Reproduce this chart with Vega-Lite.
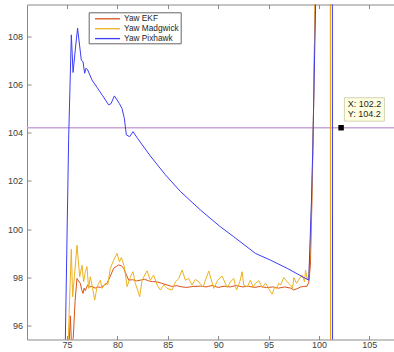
{
  "$schema": "https://vega.github.io/schema/vega-lite/v6.json",
  "width": 367,
  "height": 335,
  "autosize": {"type": "none"},
  "padding": {"left": 27, "top": 4.5, "right": 0, "bottom": 12.5},
  "background": "white",
  "config": {
    "view": {"stroke": null},
    "font": "Liberation Sans",
    "axis": {
      "domainColor": "#8a8a8a",
      "tickColor": "#8a8a8a",
      "labelColor": "#404040",
      "labelFont": "Liberation Sans",
      "labelFontSize": 9,
      "tickSize": -4,
      "grid": false,
      "title": null
    },
    "legend": {
      "orient": "none",
      "legendX": 61.7,
      "legendY": 7.8,
      "strokeColor": "#666666",
      "fillColor": "white",
      "padding": 1,
      "symbolType": "M-1,0H4.56",
      "symbolSize": 81,
      "symbolStrokeWidth": 1.3,
      "symbolOffset": 4.3,
      "labelOffset": 19,
      "labelFontSize": 8.3,
      "labelColor": "#262626",
      "labelFont": "Liberation Sans",
      "rowPadding": 0.9,
      "title": null
    }
  },
  "datasets": {
    "series": [
      {"s": "Yaw EKF", "x": 75.17, "v": 94.8},
      {"s": "Yaw EKF", "x": 75.33, "v": 96.4},
      {"s": "Yaw EKF", "x": 75.45, "v": 95.2},
      {"s": "Yaw EKF", "x": 75.62, "v": 95.5},
      {"s": "Yaw EKF", "x": 75.8, "v": 97.0},
      {"s": "Yaw EKF", "x": 75.99, "v": 97.95},
      {"s": "Yaw EKF", "x": 76.15, "v": 97.85},
      {"s": "Yaw EKF", "x": 76.32, "v": 97.75},
      {"s": "Yaw EKF", "x": 76.45, "v": 97.5},
      {"s": "Yaw EKF", "x": 76.59, "v": 97.33},
      {"s": "Yaw EKF", "x": 76.7, "v": 97.55},
      {"s": "Yaw EKF", "x": 76.82, "v": 97.45},
      {"s": "Yaw EKF", "x": 77.05, "v": 97.68},
      {"s": "Yaw EKF", "x": 77.25, "v": 97.6},
      {"s": "Yaw EKF", "x": 77.48, "v": 97.62},
      {"s": "Yaw EKF", "x": 77.8, "v": 97.55},
      {"s": "Yaw EKF", "x": 78.05, "v": 97.6},
      {"s": "Yaw EKF", "x": 78.31, "v": 97.58},
      {"s": "Yaw EKF", "x": 78.6, "v": 97.65},
      {"s": "Yaw EKF", "x": 78.97, "v": 97.75},
      {"s": "Yaw EKF", "x": 79.3, "v": 98.05},
      {"s": "Yaw EKF", "x": 79.63, "v": 98.37},
      {"s": "Yaw EKF", "x": 79.9, "v": 98.45},
      {"s": "Yaw EKF", "x": 80.12, "v": 98.51},
      {"s": "Yaw EKF", "x": 80.4, "v": 98.48},
      {"s": "Yaw EKF", "x": 80.62, "v": 98.37},
      {"s": "Yaw EKF", "x": 80.9, "v": 98.1},
      {"s": "Yaw EKF", "x": 81.12, "v": 97.88},
      {"s": "Yaw EKF", "x": 81.5, "v": 97.9},
      {"s": "Yaw EKF", "x": 81.9, "v": 97.85},
      {"s": "Yaw EKF", "x": 82.28, "v": 97.88},
      {"s": "Yaw EKF", "x": 82.7, "v": 97.92},
      {"s": "Yaw EKF", "x": 83.1, "v": 97.85},
      {"s": "Yaw EKF", "x": 83.5, "v": 97.82},
      {"s": "Yaw EKF", "x": 83.94, "v": 97.81},
      {"s": "Yaw EKF", "x": 84.4, "v": 97.75},
      {"s": "Yaw EKF", "x": 84.93, "v": 97.68},
      {"s": "Yaw EKF", "x": 85.4, "v": 97.62},
      {"s": "Yaw EKF", "x": 85.9, "v": 97.65},
      {"s": "Yaw EKF", "x": 86.4, "v": 97.6},
      {"s": "Yaw EKF", "x": 86.9, "v": 97.58},
      {"s": "Yaw EKF", "x": 87.5, "v": 97.62},
      {"s": "Yaw EKF", "x": 88.24, "v": 97.63},
      {"s": "Yaw EKF", "x": 88.8, "v": 97.6},
      {"s": "Yaw EKF", "x": 89.4, "v": 97.66},
      {"s": "Yaw EKF", "x": 90.0, "v": 97.58},
      {"s": "Yaw EKF", "x": 90.6, "v": 97.63},
      {"s": "Yaw EKF", "x": 91.2, "v": 97.6},
      {"s": "Yaw EKF", "x": 91.8, "v": 97.66},
      {"s": "Yaw EKF", "x": 92.4, "v": 97.6},
      {"s": "Yaw EKF", "x": 93.0, "v": 97.63},
      {"s": "Yaw EKF", "x": 93.6, "v": 97.58},
      {"s": "Yaw EKF", "x": 94.2, "v": 97.62},
      {"s": "Yaw EKF", "x": 94.8, "v": 97.57},
      {"s": "Yaw EKF", "x": 95.4, "v": 97.6},
      {"s": "Yaw EKF", "x": 96.0, "v": 97.55},
      {"s": "Yaw EKF", "x": 96.6, "v": 97.6},
      {"s": "Yaw EKF", "x": 97.2, "v": 97.55},
      {"s": "Yaw EKF", "x": 97.5, "v": 97.47},
      {"s": "Yaw EKF", "x": 97.8, "v": 97.52},
      {"s": "Yaw EKF", "x": 98.2, "v": 97.6},
      {"s": "Yaw EKF", "x": 98.5, "v": 97.62},
      {"s": "Yaw EKF", "x": 98.83, "v": 97.63},
      {"s": "Yaw EKF", "x": 99.0, "v": 97.8},
      {"s": "Yaw EKF", "x": 99.15, "v": 98.5},
      {"s": "Yaw EKF", "x": 99.3, "v": 101.0},
      {"s": "Yaw EKF", "x": 99.45, "v": 104.5},
      {"s": "Yaw EKF", "x": 99.62, "v": 109.5},
      {"s": "Yaw EKF", "x": 99.8, "v": 115},
      {"s": "Yaw EKF", "x": 101.13, "v": 116},
      {"s": "Yaw EKF", "x": 101.16, "v": 88},
      {"s": "Yaw EKF", "x": 107.5, "v": 88},
      {"s": "Yaw Madgwick", "x": 75.1, "v": 95.0},
      {"s": "Yaw Madgwick", "x": 75.25, "v": 97.0},
      {"s": "Yaw Madgwick", "x": 75.43, "v": 99.16},
      {"s": "Yaw Madgwick", "x": 75.56, "v": 97.19},
      {"s": "Yaw Madgwick", "x": 75.73, "v": 98.02},
      {"s": "Yaw Madgwick", "x": 75.99, "v": 99.33},
      {"s": "Yaw Madgwick", "x": 76.26, "v": 98.02},
      {"s": "Yaw Madgwick", "x": 76.49, "v": 98.5},
      {"s": "Yaw Madgwick", "x": 76.65, "v": 97.81},
      {"s": "Yaw Madgwick", "x": 76.82, "v": 98.23},
      {"s": "Yaw Madgwick", "x": 76.98, "v": 98.44},
      {"s": "Yaw Madgwick", "x": 77.15, "v": 97.54},
      {"s": "Yaw Madgwick", "x": 77.31, "v": 98.02},
      {"s": "Yaw Madgwick", "x": 77.48, "v": 97.68},
      {"s": "Yaw Madgwick", "x": 77.75, "v": 97.05},
      {"s": "Yaw Madgwick", "x": 77.98, "v": 97.6},
      {"s": "Yaw Madgwick", "x": 78.15, "v": 97.75},
      {"s": "Yaw Madgwick", "x": 78.31, "v": 97.88},
      {"s": "Yaw Madgwick", "x": 78.47, "v": 97.54},
      {"s": "Yaw Madgwick", "x": 78.8, "v": 97.74},
      {"s": "Yaw Madgwick", "x": 79.05, "v": 97.7},
      {"s": "Yaw Madgwick", "x": 79.3, "v": 98.37},
      {"s": "Yaw Madgwick", "x": 79.63, "v": 98.71},
      {"s": "Yaw Madgwick", "x": 79.96, "v": 98.99},
      {"s": "Yaw Madgwick", "x": 80.2, "v": 98.64},
      {"s": "Yaw Madgwick", "x": 80.4, "v": 98.82},
      {"s": "Yaw Madgwick", "x": 80.69, "v": 98.44},
      {"s": "Yaw Madgwick", "x": 80.96, "v": 97.61},
      {"s": "Yaw Madgwick", "x": 81.29, "v": 98.02},
      {"s": "Yaw Madgwick", "x": 81.55, "v": 98.23},
      {"s": "Yaw Madgwick", "x": 81.78, "v": 97.74},
      {"s": "Yaw Madgwick", "x": 82.01, "v": 97.47},
      {"s": "Yaw Madgwick", "x": 82.21, "v": 97.19},
      {"s": "Yaw Madgwick", "x": 82.45, "v": 97.88},
      {"s": "Yaw Madgwick", "x": 82.94, "v": 98.27},
      {"s": "Yaw Madgwick", "x": 83.27, "v": 97.88},
      {"s": "Yaw Madgwick", "x": 83.6, "v": 98.09},
      {"s": "Yaw Madgwick", "x": 83.94, "v": 97.68},
      {"s": "Yaw Madgwick", "x": 84.27, "v": 97.47},
      {"s": "Yaw Madgwick", "x": 84.6, "v": 97.68},
      {"s": "Yaw Madgwick", "x": 84.93, "v": 97.54},
      {"s": "Yaw Madgwick", "x": 85.43, "v": 97.47},
      {"s": "Yaw Madgwick", "x": 85.76, "v": 97.81},
      {"s": "Yaw Madgwick", "x": 86.09, "v": 97.95},
      {"s": "Yaw Madgwick", "x": 86.42, "v": 98.3},
      {"s": "Yaw Madgwick", "x": 86.75, "v": 97.88},
      {"s": "Yaw Madgwick", "x": 87.08, "v": 97.95},
      {"s": "Yaw Madgwick", "x": 87.41, "v": 97.68},
      {"s": "Yaw Madgwick", "x": 87.74, "v": 97.91},
      {"s": "Yaw Madgwick", "x": 88.07, "v": 97.81},
      {"s": "Yaw Madgwick", "x": 88.5, "v": 97.6},
      {"s": "Yaw Madgwick", "x": 89.07, "v": 98.26},
      {"s": "Yaw Madgwick", "x": 89.56, "v": 97.54},
      {"s": "Yaw Madgwick", "x": 89.96, "v": 97.88},
      {"s": "Yaw Madgwick", "x": 90.39, "v": 98.05},
      {"s": "Yaw Madgwick", "x": 90.89, "v": 97.58},
      {"s": "Yaw Madgwick", "x": 91.22, "v": 97.81},
      {"s": "Yaw Madgwick", "x": 91.55, "v": 97.95},
      {"s": "Yaw Madgwick", "x": 91.82, "v": 97.47},
      {"s": "Yaw Madgwick", "x": 92.15, "v": 97.81},
      {"s": "Yaw Madgwick", "x": 92.38, "v": 98.23},
      {"s": "Yaw Madgwick", "x": 92.54, "v": 97.68},
      {"s": "Yaw Madgwick", "x": 92.88, "v": 97.6},
      {"s": "Yaw Madgwick", "x": 93.21, "v": 97.88},
      {"s": "Yaw Madgwick", "x": 93.47, "v": 97.58},
      {"s": "Yaw Madgwick", "x": 93.7, "v": 97.75},
      {"s": "Yaw Madgwick", "x": 94.03, "v": 97.86},
      {"s": "Yaw Madgwick", "x": 94.37, "v": 97.58},
      {"s": "Yaw Madgwick", "x": 94.7, "v": 97.75},
      {"s": "Yaw Madgwick", "x": 94.96, "v": 97.58},
      {"s": "Yaw Madgwick", "x": 95.19, "v": 97.4},
      {"s": "Yaw Madgwick", "x": 95.36, "v": 97.3},
      {"s": "Yaw Madgwick", "x": 95.59, "v": 97.58},
      {"s": "Yaw Madgwick", "x": 95.79, "v": 97.54},
      {"s": "Yaw Madgwick", "x": 96.02, "v": 97.75},
      {"s": "Yaw Madgwick", "x": 96.19, "v": 97.68},
      {"s": "Yaw Madgwick", "x": 96.52, "v": 97.99},
      {"s": "Yaw Madgwick", "x": 96.85, "v": 97.81},
      {"s": "Yaw Madgwick", "x": 97.18, "v": 97.68},
      {"s": "Yaw Madgwick", "x": 97.38, "v": 97.54},
      {"s": "Yaw Madgwick", "x": 97.51, "v": 97.99},
      {"s": "Yaw Madgwick", "x": 97.78, "v": 97.75},
      {"s": "Yaw Madgwick", "x": 98.01, "v": 97.91},
      {"s": "Yaw Madgwick", "x": 98.34, "v": 98.09},
      {"s": "Yaw Madgwick", "x": 98.57, "v": 97.81},
      {"s": "Yaw Madgwick", "x": 98.67, "v": 98.3},
      {"s": "Yaw Madgwick", "x": 98.84, "v": 97.91},
      {"s": "Yaw Madgwick", "x": 99.0, "v": 98.09},
      {"s": "Yaw Madgwick", "x": 99.12, "v": 99.0},
      {"s": "Yaw Madgwick", "x": 99.3, "v": 101.5},
      {"s": "Yaw Madgwick", "x": 99.45, "v": 104.5},
      {"s": "Yaw Madgwick", "x": 99.62, "v": 109.5},
      {"s": "Yaw Madgwick", "x": 99.8, "v": 115},
      {"s": "Yaw Madgwick", "x": 101.14, "v": 116},
      {"s": "Yaw Madgwick", "x": 101.17, "v": 88},
      {"s": "Yaw Madgwick", "x": 107.5, "v": 88},
      {"s": "Yaw Pixhawk", "x": 74.82, "v": 95.0},
      {"s": "Yaw Pixhawk", "x": 74.9, "v": 97.05},
      {"s": "Yaw Pixhawk", "x": 75.16, "v": 103.7},
      {"s": "Yaw Pixhawk", "x": 75.43, "v": 108.05},
      {"s": "Yaw Pixhawk", "x": 75.6, "v": 106.49},
      {"s": "Yaw Pixhawk", "x": 75.82, "v": 107.43},
      {"s": "Yaw Pixhawk", "x": 76.05, "v": 108.33},
      {"s": "Yaw Pixhawk", "x": 76.42, "v": 107.0},
      {"s": "Yaw Pixhawk", "x": 76.59, "v": 106.94},
      {"s": "Yaw Pixhawk", "x": 76.75, "v": 106.46},
      {"s": "Yaw Pixhawk", "x": 76.89, "v": 106.67},
      {"s": "Yaw Pixhawk", "x": 77.05, "v": 106.6},
      {"s": "Yaw Pixhawk", "x": 77.48, "v": 106.18},
      {"s": "Yaw Pixhawk", "x": 78.0, "v": 105.86},
      {"s": "Yaw Pixhawk", "x": 78.5, "v": 105.55},
      {"s": "Yaw Pixhawk", "x": 79.13, "v": 105.15},
      {"s": "Yaw Pixhawk", "x": 79.37, "v": 105.2},
      {"s": "Yaw Pixhawk", "x": 79.7, "v": 105.52},
      {"s": "Yaw Pixhawk", "x": 79.97, "v": 105.35},
      {"s": "Yaw Pixhawk", "x": 80.2, "v": 105.2},
      {"s": "Yaw Pixhawk", "x": 80.46, "v": 105.0},
      {"s": "Yaw Pixhawk", "x": 80.69, "v": 104.59},
      {"s": "Yaw Pixhawk", "x": 80.89, "v": 103.9},
      {"s": "Yaw Pixhawk", "x": 81.22, "v": 103.83},
      {"s": "Yaw Pixhawk", "x": 81.55, "v": 104.04},
      {"s": "Yaw Pixhawk", "x": 82.0, "v": 103.76},
      {"s": "Yaw Pixhawk", "x": 83.27, "v": 103.03},
      {"s": "Yaw Pixhawk", "x": 84.76, "v": 102.25},
      {"s": "Yaw Pixhawk", "x": 86.25, "v": 101.56},
      {"s": "Yaw Pixhawk", "x": 88.24, "v": 100.79},
      {"s": "Yaw Pixhawk", "x": 90.2, "v": 100.1},
      {"s": "Yaw Pixhawk", "x": 91.55, "v": 99.68},
      {"s": "Yaw Pixhawk", "x": 93.7, "v": 98.99},
      {"s": "Yaw Pixhawk", "x": 95.19, "v": 98.71},
      {"s": "Yaw Pixhawk", "x": 96.85, "v": 98.37},
      {"s": "Yaw Pixhawk", "x": 98.99, "v": 97.88},
      {"s": "Yaw Pixhawk", "x": 99.26, "v": 101.2},
      {"s": "Yaw Pixhawk", "x": 99.39, "v": 103.3},
      {"s": "Yaw Pixhawk", "x": 99.67, "v": 109.3},
      {"s": "Yaw Pixhawk", "x": 99.85, "v": 115},
      {"s": "Yaw Pixhawk", "x": 101.33, "v": 116},
      {"s": "Yaw Pixhawk", "x": 101.36, "v": 88},
      {"s": "Yaw Pixhawk", "x": 107.5, "v": 88}
    ],
    "tip": [{"x": 102.2, "y": 104.2, "tx": "X: 102.2", "ty": "Y: 104.2"}]
  },
  "layer": [
    {
      "data": {"name": "tip"},
      "mark": {"type": "rule", "color": "#c9a6dc", "strokeWidth": 1.5},
      "encoding": {"y": {"field": "y", "type": "quantitative"}}
    },
    {
      "data": {"name": "series"},
      "mark": {"type": "line", "strokeWidth": 1, "clip": true},
      "encoding": {
        "x": {"field": "x", "type": "quantitative", "scale": {"domain": [71.03, 107.45], "nice": false, "zero": false}, "axis": {"orient": "bottom", "values": [75, 80, 85, 90, 95, 100, 105], "labelPadding": 5}},
        "y": {"field": "v", "type": "quantitative", "scale": {"domain": [95.42, 109.31], "nice": false, "zero": false}, "axis": {"orient": "left", "values": [96, 98, 100, 102, 104, 106, 108], "labelPadding": 8.4}},
        "color": {"field": "s", "type": "nominal", "scale": {"domain": ["Yaw EKF", "Yaw Madgwick", "Yaw Pixhawk"], "range": ["#d95319", "#edb120", "#3c3cf5"]}}
      }
    },
    {
      "data": {"name": "tip"},
      "mark": {"type": "point", "shape": "M0.33,-3H4.33V-0.66H0.33Z", "size": 400, "filled": true, "fill": "#ffffe1", "stroke": "#c8c8a8", "strokeWidth": 0.8, "opacity": 1},
      "encoding": {
        "x": {"field": "x", "type": "quantitative", "axis": null},
        "y": {"field": "y", "type": "quantitative"}
      }
    },
    {
      "data": {"name": "tip"},
      "mark": {"type": "square", "size": 30, "color": "black", "opacity": 1},
      "encoding": {
        "x": {"field": "x", "type": "quantitative", "axis": {"orient": "top", "values": [75, 80, 85, 90, 95, 100, 105], "labels": false}},
        "y": {"field": "y", "type": "quantitative"}
      }
    },
    {
      "data": {"name": "tip"},
      "mark": {"type": "text", "align": "left", "baseline": "middle", "dx": 6.6, "dy": -23.3, "fontSize": 9, "color": "#262626", "font": "Liberation Sans"},
      "encoding": {
        "x": {"field": "x", "type": "quantitative", "axis": null},
        "y": {"field": "y", "type": "quantitative"},
        "text": {"field": "tx"}
      }
    },
    {
      "data": {"name": "tip"},
      "mark": {"type": "text", "align": "left", "baseline": "middle", "dx": 6.6, "dy": -13.3, "fontSize": 9, "color": "#262626", "font": "Liberation Sans"},
      "encoding": {
        "x": {"field": "x", "type": "quantitative", "axis": null},
        "y": {"field": "y", "type": "quantitative"},
        "text": {"field": "ty"}
      }
    }
  ],
  "resolve": {"axis": {"x": "independent"}}
}
